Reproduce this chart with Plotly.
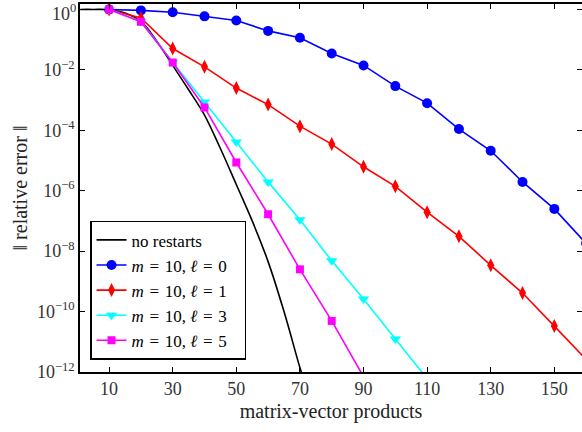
import plotly.graph_objects as go

# ---- data ----
steps = [10, 20, 30, 40, 50, 60, 70, 80, 90, 100, 110, 120, 130, 140, 150, 160]

noRestart_x = [1, 5, 10, 15, 20, 25, 30, 35, 40, 45, 50, 55, 60, 65, 70, 72]
noRestart_y = [1.0, 1.0, 0.98, 0.76, 0.40, 0.089, 0.0141, 2.2e-3, 3.2e-4, 2.5e-5,
               1.6e-6, 1.0e-7, 4.5e-9, 1.0e-10, 1.4e-12, 3.0e-13]

l0_y = [1.0, 0.93, 0.81, 0.59, 0.43, 0.195, 0.115, 0.035, 0.014, 2.9e-3, 7.9e-4,
        1.1e-4, 2.1e-5, 1.95e-6, 2.5e-7, 1.8e-8]
l1_y = [1.0, 0.52, 0.051, 0.0126, 2.5e-3, 7.1e-4, 1.37e-4, 3.5e-5, 6.2e-6, 1.4e-6,
        1.95e-7, 3.1e-8, 3.4e-9, 4.1e-10, 3.3e-11, 2.6e-12]
l3_x = [10, 20, 30, 40, 50, 60, 70, 80, 90, 100, 110]
l3_y = [1.0, 0.40, 0.018, 8.7e-4, 4.1e-5, 1.96e-6, 1.1e-7, 4.8e-9, 2.6e-10, 1.24e-11, 6.0e-13]
l5_x = [10, 20, 30, 40, 50, 60, 70, 80, 90]
l5_y = [1.0, 0.39, 0.0175, 5.7e-4, 8.6e-6, 1.66e-7, 2.5e-9, 4.9e-11, 7.0e-13]

x_ticks = [10, 30, 50, 70, 90, 110, 130, 150]
y_tickvals = [1e0, 1e-2, 1e-4, 1e-6, 1e-8, 1e-10, 1e-12]
y_ticktext = ["10<sup>0</sup>", "10<sup>−2</sup>", "10<sup>−4</sup>", "10<sup>−6</sup>",
              "10<sup>−8</sup>", "10<sup>−10</sup>", "10<sup>−12</sup>"]

names = ["no restarts",
         "<i>m</i>\u2004=\u200410, <i>ℓ</i>\u2004=\u20040\u2002\u2009",
         "<i>m</i>\u2004=\u200410, <i>ℓ</i>\u2004=\u20041\u2002\u2009",
         "<i>m</i>\u2004=\u200410, <i>ℓ</i>\u2004=\u20043\u2002\u2009",
         "<i>m</i>\u2004=\u200410, <i>ℓ</i>\u2004=\u20045\u2002\u2009"]

FONT = "Liberation Serif"
TICKFONT = dict(family=FONT, size=18, color="#333333")

fig = go.Figure()
fig.add_trace(go.Scatter(x=noRestart_x, y=noRestart_y, mode="lines", name=names[0],
                         line=dict(color="black", width=1.6, shape="spline")))
fig.add_trace(go.Scatter(x=steps, y=l0_y, mode="lines+markers", name=names[1],
                         line=dict(color="#0000ff", width=1.6),
                         marker=dict(symbol="circle", size=10, color="#0000ff")))
fig.add_trace(go.Scatter(x=steps, y=l1_y, mode="lines+markers", name=names[2],
                         line=dict(color="#ff0000", width=1.6),
                         marker=dict(symbol="diamond-tall", size=10, color="#ff0000")))
fig.add_trace(go.Scatter(x=l3_x, y=l3_y, mode="lines+markers", name=names[3],
                         line=dict(color="#00ffff", width=1.6),
                         marker=dict(symbol="triangle-down", size=10, color="#00ffff")))
fig.add_trace(go.Scatter(x=l5_x, y=l5_y, mode="lines+markers", name=names[4],
                         line=dict(color="#ff00ff", width=1.6),
                         marker=dict(symbol="square", size=8, color="#ff00ff")))

axis_common = dict(showline=True, linecolor="black", linewidth=1.5, mirror="ticks",
                   ticks="inside", ticklen=5, tickwidth=1, tickcolor="black",
                   showgrid=False, zeroline=False, automargin=False,
                   ticklabeloverflow="allow", tickfont=TICKFONT)

fig.update_xaxes(range=[0.85, 158.7], tickvals=x_ticks,
                 title=dict(text="matrix-vector products", standoff=6,
                            font=dict(family=FONT, size=20, color="#222222")),
                 **axis_common)
# top label (10^0) is drawn as an annotation so it is not clipped by the page edge
fig.update_yaxes(type="log", range=[-12, 0.18], tickvals=y_tickvals,
                 ticktext=[""] + y_ticktext[1:],
                 title=dict(text="‖ relative error ‖", standoff=4,
                            font=dict(family=FONT, size=20, color="#222222")),
                 **axis_common)
fig.add_annotation(xref="paper", yref="y", x=0, y=0, text=y_ticktext[0],
                   showarrow=False, xanchor="right", yanchor="middle",
                   xshift=-2, yshift=-3, font=TICKFONT)

fig.update_layout(
    width=582, height=432,
    margin=dict(l=80, r=0, t=4, b=60),
    paper_bgcolor="white", plot_bgcolor="white",
    font=dict(family=FONT, size=19, color="black"),
    legend=dict(x=0.02, y=0.033, xanchor="left", yanchor="bottom",
                bgcolor="white", bordercolor="black", borderwidth=1.5,
                font=dict(family=FONT, size=17, color="black"),
                itemwidth=30, tracegroupgap=0),
    showlegend=True,
)

fig.write_html("out.html", config={"displayModeBar": False},
               post_script="document.body.style.margin='0';document.body.style.padding='0';")
